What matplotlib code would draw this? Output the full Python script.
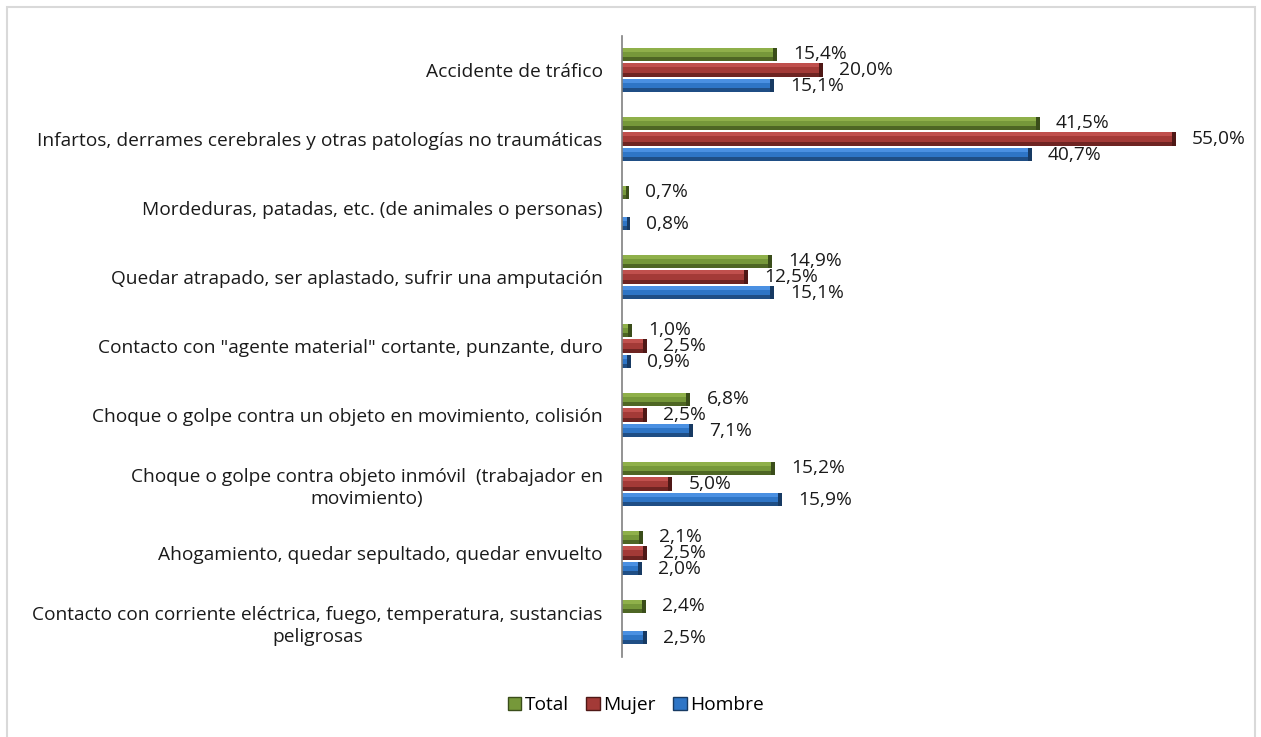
import numpy as np
import matplotlib
matplotlib.use("Agg")
import matplotlib.pyplot as plt
from matplotlib.patches import Patch, Rectangle

plt.rcParams['font.family'] = ['Open Sans', 'DejaVu Sans']

categorias = [
    'Accidente de tráfico',
    'Infartos, derrames cerebrales y otras patologías no traumáticas',
    'Mordeduras, patadas, etc. (de animales o personas)',
    'Quedar atrapado, ser aplastado, sufrir una amputación',
    'Contacto con "agente material" cortante, punzante, duro',
    'Choque o golpe contra un objeto en movimiento, colisión',
    'Choque o golpe contra objeto inmóvil  (trabajador en\nmovimiento)',
    'Ahogamiento, quedar sepultado, quedar envuelto',
    'Contacto con corriente eléctrica, fuego, temperatura, sustancias\npeligrosas',
]
total = [15.4, 41.5, 0.7, 14.9, 1.0, 6.8, 15.2, 2.1, 2.4]
mujer = [20.0, 55.0, None, 12.5, 2.5, 2.5, 5.0, 2.5, None]
hombre = [15.1, 40.7, 0.8, 15.1, 0.9, 7.1, 15.9, 2.0, 2.5]

series = [
    ('Total', total, ('#8fb04a', '#76983a', '#4e6624', '#3a4d1a')),
    ('Mujer', mujer, ('#c0504d', '#a33a37', '#6e2422', '#4f1816')),
    ('Hombre', hombre, ('#4a90e2', '#2e75c6', '#1f4e85', '#173a63')),
]

fig = plt.figure(figsize=(12.61, 7.37), dpi=100)
ax = fig.add_axes([622 / 1261, 1 - 656.5 / 737, 604 / 1261, (656.5 - 35.5) / 737])

y = np.arange(len(categorias))
paso = 0.225
h = 0.2
cap = 0.4  # ancho del remate oscuro al final de cada barra

for i, (nombre, vals, (light, main, dark, darker)) in enumerate(series):
    pos = y + (i - 1) * paso
    for yy, v in zip(pos, vals):
        if v is None:
            continue
        ax.barh(yy, v, height=h, color=main, linewidth=0)
        ax.barh(yy - h / 2 + h * 0.15, v, height=h * 0.3, color=light, linewidth=0)
        ax.barh(yy + h / 2 - h * 0.15, v, height=h * 0.3, color=dark, linewidth=0)
        c = min(cap, v * 0.4)
        ax.barh(yy, c, left=v - c, height=h, color=darker, linewidth=0)
        ax.annotate(f'{v:.1f}%'.replace('.', ','), (v, yy), xytext=(16, 0),
                    textcoords='offset pixels', va='center', ha='left',
                    fontsize=13.8, color='#1a1a1a')

ax.set_xlim(0, 60)
ax.set_ylim(len(categorias) - 0.5, -0.5)
ax.set_yticks(y)
ax.set_yticklabels(categorias, fontsize=13.8, color='#1a1a1a',
                   multialignment='center', linespacing=1.3)
ax.tick_params(axis='y', length=0, pad=14)
ax.set_xticks([])
for s in ['top', 'right', 'bottom']:
    ax.spines[s].set_visible(False)
ax.spines['left'].set_color('#808080')
ax.spines['left'].set_linewidth(1.2)

handles = [Patch(facecolor=c[1], edgecolor=c[3], label=n) for n, _, c in series]
fig.legend(handles=handles, loc='center', bbox_to_anchor=(636 / 1261, 1 - 705 / 737),
           ncol=3, frameon=False, fontsize=13.8, handlelength=0.7, handleheight=0.7,
           handletextpad=0.2, columnspacing=0.9)

fig.add_artist(Rectangle((7 / 1261, -0.05), (1255 - 7) / 1261, 1.05 - 7 / 737,
                         transform=fig.transFigure, fill=False,
                         edgecolor='#d9d9d9', linewidth=1.5))

fig.savefig('out.png', dpi=100, facecolor='white')
